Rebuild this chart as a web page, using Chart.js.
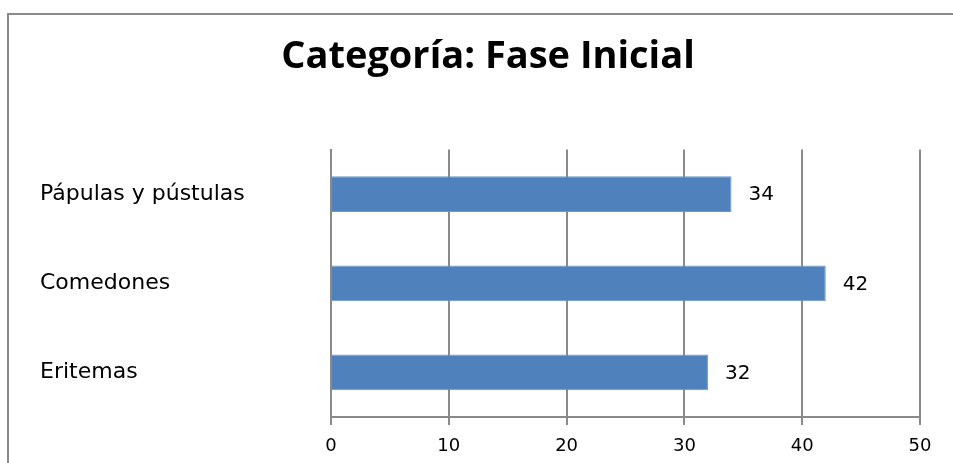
<!DOCTYPE html>
<html>
<head>
<meta charset="utf-8">
<script src="https://cdn.jsdelivr.net/npm/chart.js@4"></script>
<style>
  html, body { margin: 0; padding: 0; background: #fff; }
  #wrap { position: relative; width: 953px; height: 463px; overflow: hidden; }
  #frame { position: absolute; left: 7px; top: 13px; right: 0; bottom: 0;
           border-left: 2px solid #8a8a8a; border-top: 2px solid #8a8a8a; }
  canvas { position: absolute; left: 0; top: 0; }
</style>
</head>
<body>
<div id="wrap">
  <div id="frame"></div>
  <canvas id="barChart" width="953" height="463"></canvas>
</div>
<script>
// Data
const categorias = ['Pápulas y pústulas', 'Comedones', 'Eritemas'];
const valores = [34, 42, 32];
const ejeTicks = [0, 10, 20, 30, 40, 50];

const gris = '#8a8a8a';

// etiquetas de valor a la derecha de cada barra
const valueLabels = {
  id: 'valueLabels',
  afterDatasetsDraw(chart) {
    const ctx = chart.ctx;
    const meta = chart.getDatasetMeta(0);
    ctx.save();
    ctx.font = '20px "DejaVu Sans"';
    ctx.fillStyle = '#000';
    ctx.textAlign = 'left';
    ctx.textBaseline = 'middle';
    meta.data.forEach((bar, i) => {
      ctx.fillText(String(valores[i]), bar.x + 17, bar.y + 1);
    });
    ctx.restore();
  }
};

const ctx = document.getElementById('barChart').getContext('2d');
new Chart(ctx, {
  type: 'bar',
  data: {
    labels: categorias,
    datasets: [{
      data: valores,
      backgroundColor: '#4f81bd',
      borderColor: '#6f97c9',
      borderWidth: 1,
      categoryPercentage: 1,
      barPercentage: 0.4
    }]
  },
  options: {
    indexAxis: 'y',
    responsive: false,
    animation: false,
    layout: { padding: { left: 40, right: 17, top: 0, bottom: 0 } },
    plugins: {
      legend: { display: false },
      tooltip: { enabled: false },
      title: {
        display: true,
        text: 'Categoría: Fase Inicial',
        color: '#000',
        font: { family: 'Open Sans', size: 38, weight: 'bold' },
        padding: { top: 34, bottom: 70 }
      }
    },
    scales: {
      x: {
        min: 0,
        max: 50,
        afterBuildTicks: (scale) => { scale.ticks = ejeTicks.map(v => ({ value: v })); },
        grid: { color: gris, lineWidth: 2, tickLength: 8, tickColor: gris },
        border: { color: gris, width: 2 },
        ticks: { color: '#000', padding: 11, font: { family: 'DejaVu Sans', size: 18 } },
        afterFit: (scale) => { scale.height = 46; }
      },
      y: {
        grid: { display: false },
        border: { color: gris, width: 2 },
        ticks: { color: '#000', crossAlign: 'far', font: { family: 'DejaVu Sans', size: 22 } },
        afterFit: (scale) => { scale.width = 291; }
      },
      y2: {
        position: 'right',
        grid: { display: false },
        border: { display: false },
        ticks: { display: false },
        afterFit: (scale) => { scale.width = 16; }
      }
    }
  },
  plugins: [valueLabels]
});
</script>
</body>
</html>
